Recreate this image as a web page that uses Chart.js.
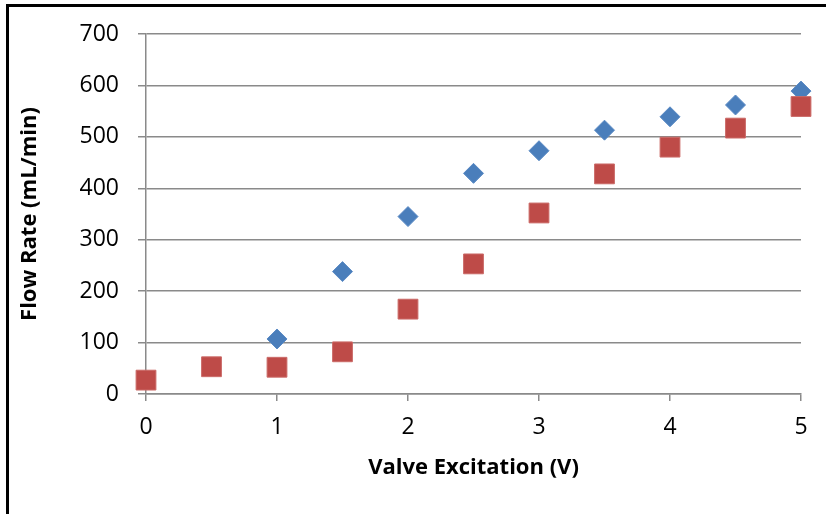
<!DOCTYPE html>
<html>
<head>
<meta charset="utf-8">
<script src="https://cdn.jsdelivr.net/npm/chart.js@4.4.1/dist/chart.umd.min.js"></script>
<style>
    html, body { margin: 0; padding: 0; background: #fff; overflow: hidden; }
    #wrap { position: relative; width: 826px; height: 514px; }
    #frame {
        position: absolute; left: 6px; top: 4px; width: 840px; height: 530px;
        border-top: 3px solid #000; border-left: 3px solid #000; pointer-events: none;
    }
</style>
</head>
<body>
<div id="wrap">
    <canvas id="flowChart" width="826" height="514"></canvas>
    <div id="frame"></div>
</div>
<script>
// valve excitation (V) -> flow rate (mL/min)
const blueVolts = [1, 1.5, 2, 2.5, 3, 3.5, 4, 4.5, 5];
const blueFlow = [107, 238, 345, 429, 473, 513, 539, 562, 589];

const redVolts = [0, 0.5, 1, 1.5, 2, 2.5, 3, 3.5, 4, 4.5, 5];
const redFlow = [27, 53, 52, 82, 165, 253, 352, 428, 480, 517, 559];

const xTicks = [0, 1, 2, 3, 4, 5];
const yTicks = [0, 100, 200, 300, 400, 500, 600, 700];

const toPoints = (xs, ys) => xs.map((x, i) => ({ x: x, y: ys[i] }));

const gridColor = '#8a8a8a';
const tickFont = { family: 'Open Sans', size: 23 };
const titleFont = { family: 'Open Sans', size: 22, weight: 'bold' };

const ctx = document.getElementById('flowChart').getContext('2d');
new Chart(ctx, {
    type: 'scatter',
    data: {
        datasets: [{
            label: 'Series 1',
            data: toPoints(blueVolts, blueFlow),
            pointStyle: 'rectRot',
            pointRadius: 10,
            pointHoverRadius: 10,
            backgroundColor: '#4a7ebb',
            borderColor: '#5a8ac4',
            borderWidth: 1,
            order: 2,
            clip: false
        }, {
            label: 'Series 2',
            data: toPoints(redVolts, redFlow),
            pointStyle: 'rect',
            pointRadius: 14,
            pointHoverRadius: 14,
            backgroundColor: '#be4b48',
            borderColor: '#cb6a67',
            borderWidth: 1,
            order: 1,
            clip: false
        }]
    },
    options: {
        responsive: false,
        animation: false,
        layout: { padding: { left: 0, top: 34, right: 25, bottom: 0 } },
        plugins: {
            legend: { display: false },
            tooltip: { enabled: false }
        },
        scales: {
            x: {
                type: 'linear',
                min: 0,
                max: 5,
                afterFit: (scale) => { scale.height = 120; },
                afterBuildTicks: (scale) => { scale.ticks = xTicks.map(v => ({ value: v })); },
                grid: { drawOnChartArea: false, drawTicks: true, tickLength: 7, color: gridColor, lineWidth: 1.5 },
                border: { color: gridColor, width: 1.5 },
                ticks: { color: '#000', font: tickFont, padding: 13, maxRotation: 0 },
                title: {
                    display: true,
                    text: 'Valve Excitation (V)',
                    color: '#000',
                    font: titleFont,
                    padding: { top: 0, bottom: 33 }
                }
            },
            y: {
                type: 'linear',
                min: 0,
                max: 700,
                afterFit: (scale) => { scale.width = 146; },
                afterBuildTicks: (scale) => { scale.ticks = yTicks.map(v => ({ value: v })); },
                grid: { color: gridColor, lineWidth: 1.5, drawTicks: true, tickLength: 8 },
                border: { color: gridColor, width: 1.5 },
                ticks: { color: '#000', font: tickFont, padding: 19 },
                title: {
                    display: true,
                    text: 'Flow Rate (mL/min)',
                    color: '#000',
                    font: titleFont,
                    padding: { top: 17, bottom: 0 }
                }
            }
        }
    }
});
</script>
</body>
</html>
